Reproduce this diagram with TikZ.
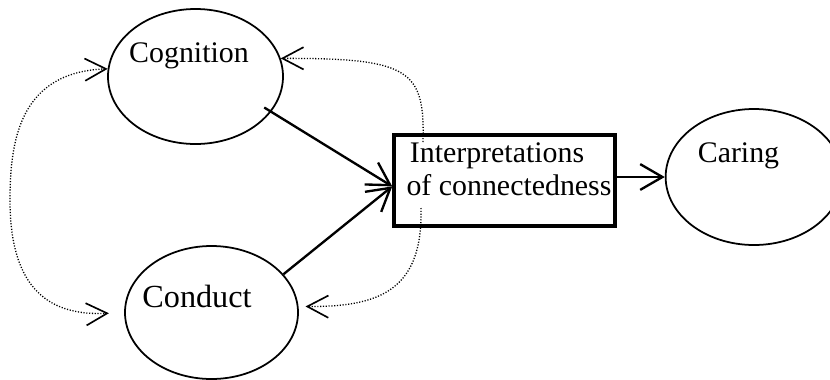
\documentclass[tikz,border=0pt]{standalone}
\usepackage{fontspec}
\setmainfont{Liberation Serif}
\usetikzlibrary{arrows.meta,shapes.geometric}
\tikzstyle{bubble}=[ellipse,draw,line width=1.5pt,inner sep=0pt]
\tikzstyle{linkbox}=[rectangle,draw,line width=3pt,minimum width=6.63cm,minimum height=2.73cm,inner sep=0pt]
\tikzstyle{edge}=[draw,line width=2pt,-{Straight Barb[length=19pt,width=22pt,line width=2pt]}]
\tikzstyle{feedback}=[draw,line width=1.1pt,dash pattern=on 1pt off 1.4pt]
\tikzstyle{word}=[anchor=base,inner sep=0pt,font=\fontsize{25.5}{30}\selectfont]
\tikzset{fbtip/.tip={Straight Barb[length=18pt,width=19pt,line width=1.4pt]}}

\begin{document}
\begin{tikzpicture}[x=0.03cm,y=-0.03cm]
  \useasboundingbox (0,0) rectangle (830,379);
  \clip (0,0) rectangle (830,379);

  \foreach \x/\y/\w/\h/\name in {195.5/76.5/5.25/4.05/cog, 211.5/312.5/5.19/3.99/cond, 754/177/5.3/4.08/car}
     \node[bubble, minimum width=\w cm, minimum height=\h cm] (\name) at (\x,\y) {};

  \node[linkbox] (box) at (504.5,180.5) {};

  % labels
  \foreach \x/\y/\name/\label in {189/62/cogtxt/Cognition, 738.5/162/cartxt/Caring, 497/162/intxt/Interpretations, 509/195/contxt/of connectedness}
     \node[word] (\name) at (\x,\y) {\label};
  \node[word, font=\fontsize{27.5}{32}\selectfont] (condtxt) at (197,307) {Conduct};

  \foreach \source/\dest/\s in {cog.-25/box.183/-7pt, cond.28/box.183/0pt}
     \path[edge, shorten <=\s] (\source) -- (\dest);
  \path[edge] (box.east |- car.west) -- (car.west);

  % dotted feedback loops
  \coordinate (ftop) at (423,142);
  \coordinate (fbot) at (421,208);
  \path[feedback, fbtip-fbtip, shorten >=13pt] (cog.175) .. controls (20,72) and (10,140) .. (10,200)
       .. controls (10,290) and (50,316) .. (cond.180);
  \path[feedback, -fbtip] (ftop) .. controls (425,70) and (410,58) .. (cog.12);
  \path[feedback, -fbtip, shorten >=6pt] (fbot) .. controls (423,290) and (380,307) .. (cond.4);

\end{tikzpicture}
\end{document}
